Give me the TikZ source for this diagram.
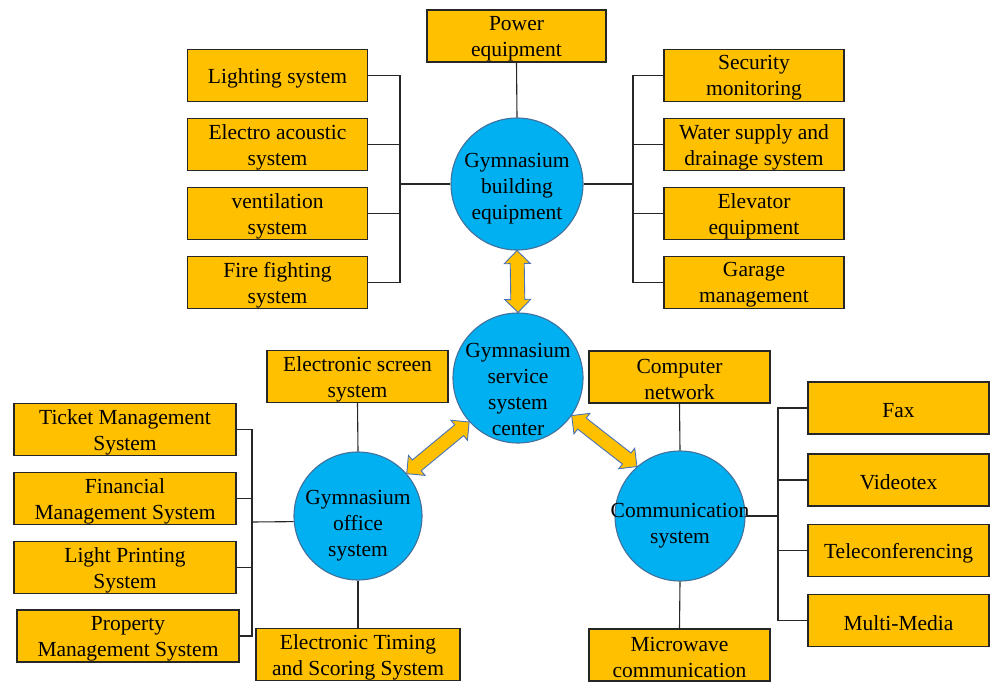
\documentclass[tikz,border=0pt]{standalone}
\usepackage{fontspec}
\setmainfont{Liberation Serif}
\usetikzlibrary{calc}
\definecolor{boxfill}{HTML}{FFC000}
\definecolor{circfill}{HTML}{00B0F0}
\definecolor{circline}{HTML}{41719C}
\definecolor{arrline}{HTML}{4A72B8}
\definecolor{wire}{HTML}{262626}

% double-headed block arrow from point #1 to point #2
\newcommand\linkarrow[2]{%
  \path let \p1=($(#2)-(#1)$) in \pgfextra{%
    \pgfmathsetmacro\arrang{atan2(\y1,\x1)}%
    \pgfmathsetmacro\arrlen{veclen(\x1,\y1)}%
    \global\let\arrangG\arrang \global\let\arrlenG\arrlen};
  \begin{scope}[shift={(#1)}, rotate=\arrangG]
    \filldraw[arrowbody] (0pt,0pt) -- (13pt,13pt) -- (13pt,7pt)
      -- ({\arrlenG pt-13pt},7pt) -- ({\arrlenG pt-13pt},13pt)
      -- ({\arrlenG pt},0pt) -- ({\arrlenG pt-13pt},-13pt)
      -- ({\arrlenG pt-13pt},-7pt) -- (13pt,-7pt) -- (13pt,-13pt) -- cycle;
  \end{scope}}

\begin{document}
\begin{tikzpicture}[x=1pt, y=-1pt,
  every node/.style={font=\fontsize{21.5}{26}\selectfont, text=black},
  % centred caption of a shape, lowered by #1
  caption/.style 2 args={label={[align=center, inner sep=0pt, yshift=-#1]center:{#2}}},
  box/.style={draw=black!85, line width=1.3pt, fill=boxfill,
    inner sep=0pt, minimum width=#1, minimum height=52pt},
  box/.default=180pt,
  btxt/.style={caption={2.5pt}{#1}},
  hub/.style={circle, draw=circline, line width=1.1pt, fill=circfill,
    inner sep=0pt, minimum size=#1},
  hub/.default=130pt,
  link/.style={draw=wire, line width=1.1pt},
  arrowbody/.style={fill=boxfill, draw=arrline, line width=0.9pt, line join=miter}]

\useasboundingbox (0,0) rectangle (990,682);

% hubs
\node[hub=132pt, caption={4.5pt}{Gymnasium\\building\\equipment}] (tc) at (517,184) {};
\node[hub, caption={11pt}{Gymnasium\\service\\system\\center}] (svc) at (518,378) {};
\node[hub=128pt, caption={10pt}{Gymnasium\\office\\system}] (office) at (358,516) {};
\node[hub, caption={10pt}{Communication\\system}] (comm) at (680,516) {};

% building equipment group
\node[box=179pt, btxt={Power\\equipment}] (pow) at (516.5,36) {};
\node[box, btxt={Lighting system}] (light) at (277.5,75.5) {};
\node[box, btxt={Electro acoustic\\system}] (elec) at (277.5,144.5) {};
\node[box, btxt={ventilation\\system}] (vent) at (277.5,213.5) {};
\node[box, btxt={Fire fighting\\system}] (fire) at (277.5,282.5) {};
\node[box, btxt={Security\\monitoring}] (sec) at (754,75.5) {};
\node[box, btxt={Water supply and\\drainage system}] (water) at (754,144.5) {};
\node[box, btxt={Elevator\\equipment}] (elev) at (754,213.5) {};
\node[box, btxt={Garage\\management}] (garage) at (754,282.5) {};

% office group
\node[box=181pt, btxt={Electronic screen\\system}] (screen) at (357.5,376.5) {};
\node[box=204pt, btxt={Electronic Timing\\and Scoring System}] (timing) at (358,654.5) {};
\node[box=222pt, btxt={Ticket Management\\System}] (ticket) at (125,429.5) {};
\node[box=222pt, btxt={Financial\\Management System}] (fin) at (125,498.5) {};
\node[box=222pt, btxt={Light Printing\\System}] (lprint) at (125,567.5) {};
\node[box=222pt, btxt={Property\\Management System}] (prop) at (128,636) {};

% communication group
\node[box=181pt, btxt={Computer\\network}] (compnet) at (679.5,377) {};
\node[box=181pt, btxt={Microwave\\communication}] (micro) at (679.5,655) {};
\node[box=181pt, btxt={Fax}] (fax) at (898.5,408) {};
\node[box=181pt, btxt={Videotex}] (video) at (898.5,480) {};
\node[box=181pt, btxt={Teleconferencing}] (tele) at (898.5,550.5) {};
\node[box=181pt, btxt={Multi-Media}] (mm) at (898.5,620.5) {};

% bracket junctions
\coordinate (lbr) at (400,184);
\coordinate (rbr) at (633,184);
\coordinate (lbb) at (252,522);
\coordinate (rbb) at (778,516);

% connectors: building equipment
\draw[link] (pow.south) -- (tc.north);
\draw[link] (light.east) -| (lbr) |- (fire.east);
\draw[link] (elec.east) -- (elec.east -| lbr);
\draw[link] (vent.east) -- (vent.east -| lbr);
\draw[link] (lbr) -- (tc.west);
\draw[link] (sec.west) -| (rbr) |- (garage.west);
\draw[link] (water.west) -- (water.west -| rbr);
\draw[link] (elev.west) -- (elev.west -| rbr);
\draw[link] (rbr) -- (tc.east);

% connectors: office system
\draw[link] (screen.south) -- (office.north);
\draw[link] (office.south) -- (timing.north);
\draw[link] (ticket.east) -| (lbb) |- (prop.east);
\draw[link] (fin.east) -- (fin.east -| lbb);
\draw[link] (lprint.east) -- (lprint.east -| lbb);
\draw[link] (lbb) -- (office.185);

% connectors: communication system
\draw[link] (compnet.south) -- (comm.north);
\draw[link] (comm.south) -- (micro.north);
\draw[link] (fax.west) -| (rbb) |- (mm.west);
\draw[link] (video.west) -- (video.west -| rbb);
\draw[link] (tele.west) -- (tele.west -| rbb);
\draw[link] (comm.east) -- (rbb);

% block arrows between hubs
\linkarrow{tc.south}{svc.north}
\linkarrow{office.41}{svc.222}
\linkarrow{svc.325}{comm.131}

\end{tikzpicture}
\end{document}
